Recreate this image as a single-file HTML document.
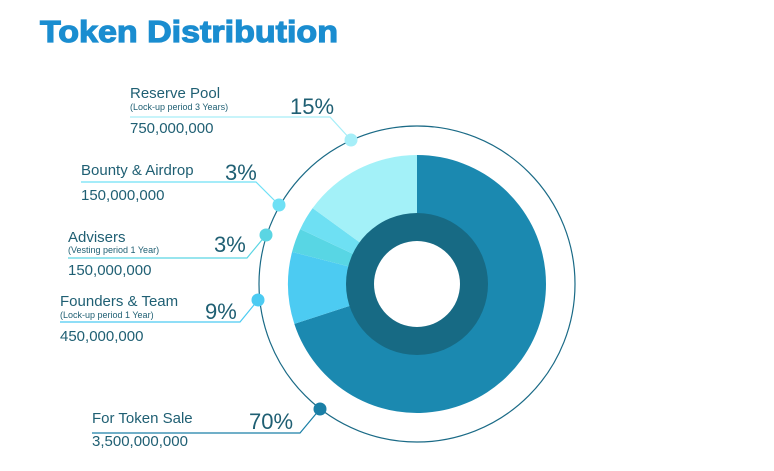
<!DOCTYPE html>
<html><head><meta charset="utf-8"><style>
html,body{margin:0;padding:0;background:#fff;width:774px;height:471px;overflow:hidden}
svg{display:block;font-family:"Liberation Sans",sans-serif}
</style></head><body>
<svg id="chart" width="774" height="471" viewBox="0 0 774 471">
<text x="40" y="42" font-size="31" font-weight="bold" fill="#1a8dd0" stroke="#1a8dd0" stroke-width="1.2" textLength="298" lengthAdjust="spacingAndGlyphs">Token Distribution</text>
<g id="slices"></g>
<g id="labels"></g>
</svg>
<script>
const categories = ["For Token Sale","Founders & Team","Advisers","Bounty & Airdrop","Reserve Pool"];
const shares = [70, 9, 3, 3, 15];
const amounts = ["3,500,000,000","450,000,000","150,000,000","150,000,000","750,000,000"];
const notes = ["", "(Lock-up period 1 Year)", "(Vesting period 1 Year)", "", "(Lock-up period 3 Years)"];

const NS="http://www.w3.org/2000/svg";
const cx=417, cy=284, rOut=129, rRing=71, rHole=43, rCircle=158;
const colors=["#1b89b0","#4ccbf2","#58d6e4","#6ee0f3","#a3f1f8"];
const dotColors=["#1a7fa6","#4ccbf2","#5bd5e3","#6fe0f5","#a6eef8"];
const svg=document.getElementById('chart');
const gS=document.getElementById('slices');
const gL=document.getElementById('labels');
function mk(t,a,p){const e=document.createElementNS(NS,t);for(const k in a)e.setAttribute(k,a[k]);(p||svg).appendChild(e);return e;}
function pt(r,frac){const a=frac*2*Math.PI;return [cx+r*Math.sin(a),cy-r*Math.cos(a)];}

const oc=mk('circle',{cx,cy,r:rCircle,fill:'none',stroke:'#1a6a86','stroke-width':1.2},gS);



const total=shares.reduce((a,b)=>a+b,0);
let acc=0;
shares.forEach((v,i)=>{
  const f0=acc/total, f1=(acc+v)/total; acc+=v;
  const [x0,y0]=pt(rOut,f0),[x1,y1]=pt(rOut,f1);
  const large=(f1-f0)>0.5?1:0;
  const p=mk('path',{d:`M${cx},${cy} L${x0},${y0} A${rOut},${rOut} 0 ${large} 1 ${x1},${y1} Z`,fill:colors[i]},gS);
  
  
});
const ring=mk('circle',{cx,cy,r:rRing,fill:'#176a84'},gS);


const hole=mk('circle',{cx,cy,r:rHole,fill:'#fff'},gS);



const layout=[
 {lx:92,ly:423,ny:446,sy:0,px:249,py:429,lineY:433,lineX2:300,dot:[320,409]},
 {lx:60,ly:306,ny:341,sy:318,px:205,py:319,lineY:322,lineX2:240,dot:[258,300]},
 {lx:68,ly:242,ny:275,sy:253,px:214,py:252,lineY:258,lineX2:247,dot:[266,235]},
 {lx:81,ly:175,ny:200,sy:0,px:225,py:180,lineY:182,lineX2:256,dot:[279,205]},
 {lx:130,ly:98,ny:133,sy:110,px:290,py:114,lineY:117,lineX2:330,dot:[351,140]}
];
const tc="#1f5f73";
categories.forEach((c,i)=>{
  const L=layout[i];
  const ln=mk('polyline',{points:`${L.lx},${L.lineY} ${L.lineX2},${L.lineY} ${L.dot[0]},${L.dot[1]}`,fill:'none',stroke:dotColors[i],'stroke-width':1.2},gL);
  
  
  const d=mk('circle',{cx:L.dot[0],cy:L.dot[1],r:6.5,fill:dotColors[i]},gL);
  
  
  const t=mk('text',{x:L.lx,y:L.ly,'font-size':15,fill:tc},gL);t.textContent=c;
  
  
  if(notes[i]){const s=mk('text',{x:L.lx,y:L.sy,'font-size':9,fill:tc},gL);s.textContent=notes[i];
    
    }
  const n=mk('text',{x:L.lx,y:L.ny,'font-size':15,fill:tc},gL);n.textContent=amounts[i];
  
  
  const p=mk('text',{x:L.px,y:L.py,'font-size':22,fill:tc},gL);p.textContent=shares[i]+'%';
  
  
});
</script>
</body></html>
